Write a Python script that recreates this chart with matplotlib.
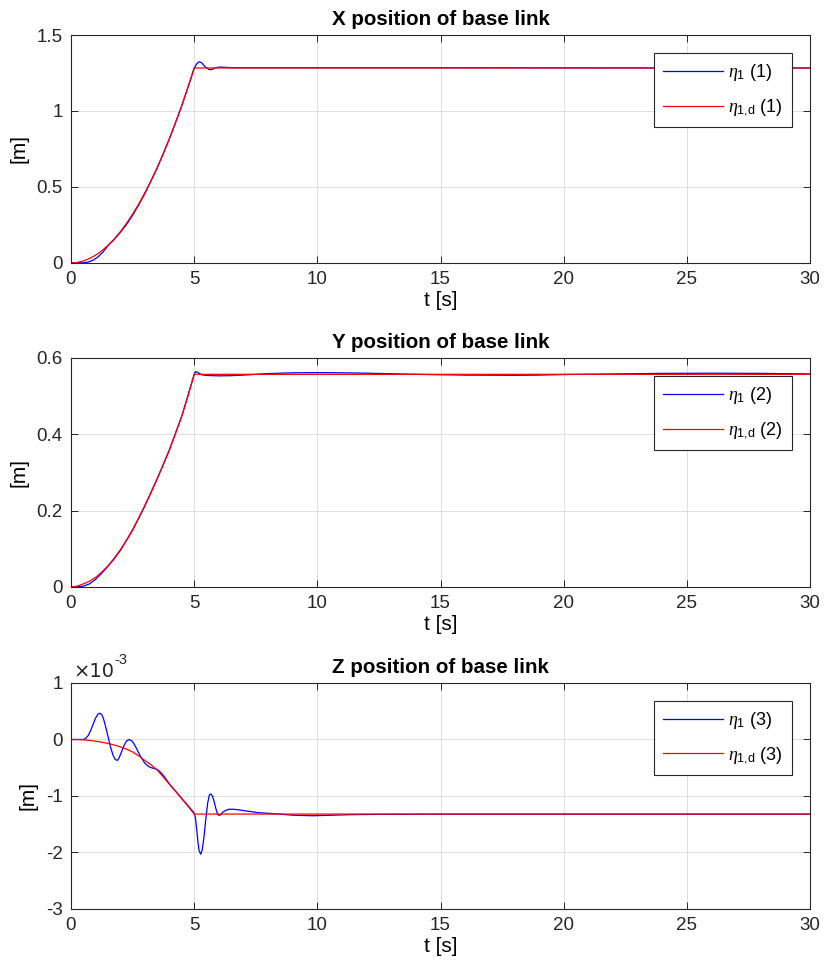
import matplotlib
matplotlib.use("Agg")
import matplotlib.pyplot as plt
from matplotlib.ticker import FuncFormatter

plt.rcParams["font.family"] = ["Liberation Sans", "DejaVu Sans"]
# greek in a slanted serif, digits and upright subscripts in the sans face
plt.rcParams["mathtext.fontset"] = "custom"
plt.rcParams["mathtext.rm"] = "Liberation Sans"
plt.rcParams["mathtext.it"] = "Liberation Serif:italic"
plt.rcParams["mathtext.bf"] = "Liberation Sans:bold"
plt.rcParams["axes.unicode_minus"] = False

BLUE = "#0000ff"
RED = "#ff0000"
AXC = "#262626"
GRID = "#dedede"

# ---- base link X [m] ----
x_ref_t = [0, 0.25, 0.5, 0.75, 1, 1.25, 1.5, 1.75, 2, 2.25, 2.5, 2.75, 3, 3.25, 3.5,
           3.75, 4, 4.25, 4.5, 4.75, 5, 30]
x_ref = [0, 0.003, 0.013, 0.029, 0.051, 0.080, 0.115, 0.157, 0.205, 0.260, 0.321,
         0.388, 0.462, 0.542, 0.628, 0.721, 0.821, 0.926, 1.038, 1.157, 1.283, 1.283]
x_act_t = [0, 0.5, 0.7, 0.9, 1.1, 1.3, 1.5, 1.75, 2, 2.25, 2.5, 2.75, 3, 3.5, 4, 4.5,
           4.8, 5.0, 5.1, 5.2, 5.3, 5.45, 5.6, 5.7, 5.85, 6.0, 6.2, 6.5, 7, 10, 15,
           20, 25, 30]
x_act = [0, 0.001, 0.006, 0.018, 0.040, 0.072, 0.112, 0.154, 0.200, 0.252, 0.313,
         0.382, 0.456, 0.624, 0.818, 1.035, 1.18, 1.28, 1.31, 1.324, 1.318, 1.29,
         1.273, 1.272, 1.282, 1.289, 1.288, 1.285, 1.285, 1.285, 1.285, 1.284,
         1.283, 1.283]

# ---- base link Y [m] ----
y_ref_t = [0, 0.25, 0.5, 0.75, 1, 1.25, 1.5, 1.75, 2, 2.25, 2.5, 2.75, 3, 3.25, 3.5,
           3.75, 4, 4.25, 4.5, 4.75, 5, 30]
y_ref = [0, 0.002, 0.008, 0.015, 0.025, 0.039, 0.055, 0.075, 0.097, 0.122, 0.150,
         0.181, 0.214, 0.248, 0.284, 0.321, 0.360, 0.403, 0.448, 0.500, 0.557, 0.557]
y_act_t = [0, 0.5, 0.75, 1, 1.25, 1.5, 1.75, 2, 2.5, 3, 3.5, 4, 4.5, 4.8, 5.0, 5.05,
           5.15, 5.3, 5.5, 6, 6.5, 7, 8, 9, 10, 11, 12, 13, 14, 16, 18, 19, 20, 22,
           24, 26, 28, 30]
y_act = [0, 0.002, 0.008, 0.020, 0.036, 0.054, 0.073, 0.095, 0.148, 0.212, 0.283,
         0.360, 0.448, 0.513, 0.556, 0.564, 0.562, 0.556, 0.554, 0.553, 0.5535,
         0.555, 0.559, 0.561, 0.5615, 0.561, 0.560, 0.5585, 0.557, 0.555, 0.5545,
         0.555, 0.5565, 0.558, 0.5595, 0.560, 0.5595, 0.558]

# ---- base link Z [x1e-3 m] ----
z_ref_t = [0, 0.25, 0.5, 0.75, 1, 1.25, 1.5, 1.75, 2, 2.25, 2.5, 2.75, 3, 3.25, 3.5,
           3.75, 4, 4.25, 4.5, 4.75, 5, 30]
z_ref = [0, -0.001, -0.006, -0.015, -0.030, -0.048, -0.070, -0.097, -0.130, -0.170,
         -0.220, -0.290, -0.370, -0.450, -0.540, -0.665, -0.795, -0.920, -1.050,
         -1.180, -1.320, -1.320]
z_act_t = [0, 0.5, 0.6, 0.7, 0.8, 0.9, 1.0, 1.1, 1.18, 1.25, 1.32, 1.4, 1.5, 1.6, 1.7,
           1.8, 1.88, 1.95, 2.05, 2.15, 2.25, 2.35, 2.46, 2.55, 2.65, 2.75, 2.85, 3.0,
           3.1, 3.2, 3.3, 3.4, 3.5, 3.6, 3.7, 3.8, 4.0, 4.25, 4.5, 4.75, 5.0, 5.05,
           5.1, 5.15, 5.2, 5.27, 5.33, 5.4, 5.47, 5.55, 5.62, 5.68, 5.74, 5.8, 5.88,
           5.95, 6.02, 6.08, 6.15, 6.26, 6.4, 6.6, 6.8, 7.2, 7.6, 8.3, 9.0, 9.8,
           10.6, 11.4, 12.5, 15, 20, 25, 30]
z_act = [0, 0.0, 0.02, 0.07, 0.16, 0.27, 0.38, 0.45, 0.465, 0.44, 0.37, 0.24, 0.06,
         -0.12, -0.27, -0.355, -0.37, -0.33, -0.22, -0.11, -0.03, 0.0, -0.02, -0.07,
         -0.15, -0.24, -0.32, -0.42, -0.46, -0.49, -0.505, -0.515, -0.53, -0.565,
         -0.61, -0.665, -0.79, -0.915, -1.045, -1.17, -1.30, -1.38, -1.58, -1.80,
         -1.97, -2.03, -1.95, -1.72, -1.42, -1.12, -0.98, -0.965, -1.0, -1.08, -1.22,
         -1.32, -1.345, -1.33, -1.29, -1.26, -1.235, -1.235, -1.245, -1.27, -1.295,
         -1.315, -1.34, -1.35, -1.34, -1.33, -1.325, -1.322, -1.322, -1.322, -1.322]

x_ticks = [0, 5, 10, 15, 20, 25, 30]

panels = [
    ("X position of base link", x_act_t, x_act, x_ref_t, x_ref, 1, (0, 1.5), [0, 0.5, 1, 1.5]),
    ("Y position of base link", y_act_t, y_act, y_ref_t, y_ref, 2, (0, 0.6), [0, 0.2, 0.4, 0.6]),
    ("Z position of base link", z_act_t, z_act, z_ref_t, z_ref, 3, (-3, 1), [-3, -2, -1, 0, 1]),
]

fig = plt.figure(figsize=(8.25, 9.75), dpi=100)
rects = [(0.086, 0.7303, 0.896, 0.2338),
         (0.086, 0.3980, 0.896, 0.2349),
         (0.086, 0.0677, 0.896, 0.2318)]

fmt = FuncFormatter(lambda v, p: "%g" % v)

for rect, (title, ta, va, tr, vr, idx, ylim, yt) in zip(rects, panels):
    ax = fig.add_axes(rect)
    ax.plot(ta, va, color=BLUE, lw=0.9, label=r"$\eta_1$ (%d)" % idx)
    ax.plot(tr, vr, color=RED, lw=0.9, label=r"$\eta_{\mathrm{1{,}d}}$ (%d)" % idx)
    ax.set_xlim(0, 30)
    ax.set_ylim(*ylim)
    ax.set_xticks(x_ticks)
    ax.set_yticks(yt)
    ax.xaxis.set_major_formatter(fmt)
    ax.yaxis.set_major_formatter(fmt)
    ax.grid(True, color=GRID, lw=0.7)
    ax.set_axisbelow(True)
    ax.tick_params(direction="in", top=True, right=True, length=5, width=0.7,
                   color=AXC, labelsize=13.5, labelcolor=AXC, pad=6)
    for s in ax.spines.values():
        s.set_color(AXC)
        s.set_linewidth(0.8)
    ax.set_title(title, fontsize=14.8, fontweight="bold", pad=7)
    ax.set_xlabel("t [s]", fontsize=15, labelpad=2)
    ax.set_ylabel("[m]", fontsize=15, labelpad=6)
    leg = ax.legend(loc="upper right", bbox_to_anchor=(0.9756, 0.921),
                    borderaxespad=0, fontsize=13, handlelength=3.3,
                    handletextpad=0.3, labelspacing=0.8, borderpad=0.5,
                    fancybox=False, framealpha=1)
    leg.get_frame().set_edgecolor(AXC)
    leg.get_frame().set_linewidth(0.8)
    if idx == 3:
        # axis multiplier drawn above the top-left corner
        base = ax.text(0.003, 1.008, "\u00d710", transform=ax.transAxes,
                       fontsize=14, color=AXC, ha="left", va="bottom",
                       family=["DejaVu Sans"])
        ax.annotate("-3", xy=(1, 0.75), xycoords=base, xytext=(0.5, 0),
                    textcoords="offset points", fontsize=10.5, color=AXC,
                    ha="left", va="bottom")

fig.savefig("out.png", dpi=100, facecolor="white")
